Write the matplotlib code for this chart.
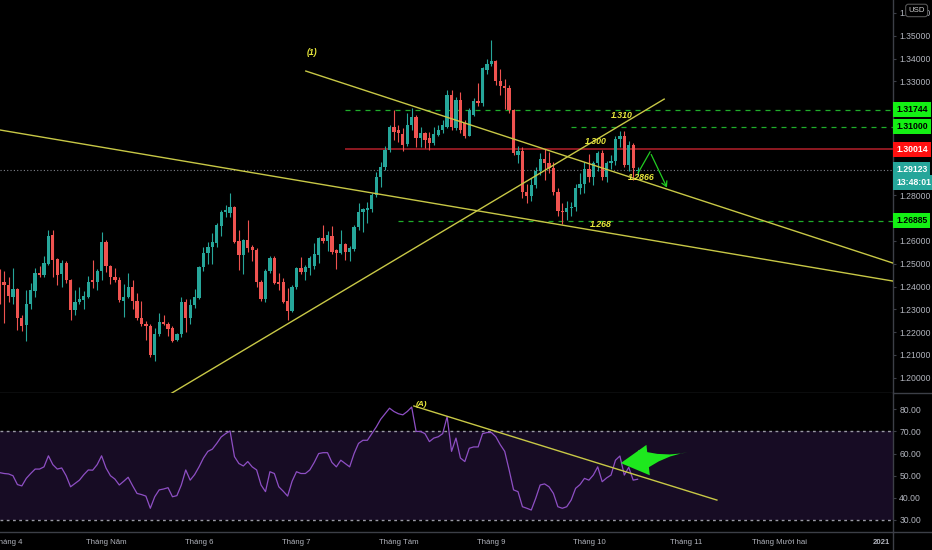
import numpy as np
import matplotlib.pyplot as plt
from matplotlib.transforms import blended_transform_factory
from matplotlib.lines import Line2D

plt.rcParams['font.family'] = ['Liberation Sans', 'DejaVu Sans']

# GBPUSD daily candles, 30 Mar .. 16 Oct 2020 (x = trading day index)
opens = [1.2460, 1.2420, 1.2405, 1.2355, 1.2390, 1.2260, 1.2230, 1.2325, 1.2380, 1.2460,
         1.2450, 1.2500, 1.2625, 1.2520, 1.2455, 1.2505, 1.2430, 1.2295, 1.2330, 1.2340,
         1.2355, 1.2430, 1.2420, 1.2470, 1.2595, 1.2490, 1.2440, 1.2430, 1.2335, 1.2355,
         1.2400, 1.2335, 1.2260, 1.2235, 1.2225, 1.2100, 1.2190, 1.2245, 1.2235, 1.2220,
         1.2165, 1.2190, 1.2330, 1.2260, 1.2320, 1.2350, 1.2485, 1.2548, 1.2575, 1.2590,
         1.2665, 1.2728, 1.2721, 1.2750, 1.2600, 1.2538, 1.2604, 1.2575, 1.2560, 1.2421,
         1.2343, 1.2469, 1.2524, 1.2421, 1.2421, 1.2337, 1.2294, 1.2399, 1.2480, 1.2465,
         1.2480, 1.2490, 1.2538, 1.2611, 1.2601, 1.2623, 1.2560, 1.2548, 1.2587, 1.2550,
         1.2565, 1.2663, 1.2725, 1.2735, 1.2738, 1.2801, 1.2881, 1.2925, 1.2999, 1.3098,
         1.3087, 1.3070, 1.3025, 1.3108, 1.3145, 1.3050, 1.3072, 1.3050, 1.3028, 1.3065,
         1.3085, 1.3101, 1.3240, 1.3094, 1.3218, 1.3116, 1.3060, 1.3153, 1.3215, 1.3203,
         1.3350, 1.3375, 1.3390, 1.3300, 1.3280, 1.3270, 1.3175, 1.2975, 1.2995, 1.2815,
         1.2795, 1.2845, 1.2905, 1.2960, 1.2940, 1.2920, 1.2815, 1.2730, 1.2725, 1.2745,
         1.2750, 1.2830, 1.2850, 1.2915, 1.2880, 1.2940, 1.2985, 1.2880, 1.2940, 1.2950,
         1.3045, 1.3060, 1.2935, 1.3020, 1.2905]
highs = [1.2475, 1.2470, 1.2440, 1.2480, 1.2395, 1.2275, 1.2385, 1.2415, 1.2480, 1.2490,
         1.2535, 1.2648, 1.2650, 1.2525, 1.2515, 1.2510, 1.2435, 1.2385, 1.2400, 1.2380,
         1.2445, 1.2515, 1.2475, 1.2640, 1.2605, 1.2495, 1.2480, 1.2440, 1.2410, 1.2460,
         1.2430, 1.2370, 1.2335, 1.2250, 1.2235, 1.2220, 1.2285, 1.2275, 1.2245, 1.2225,
         1.2195, 1.2355, 1.2345, 1.2345, 1.2390, 1.2490, 1.2575, 1.2597, 1.2633, 1.2677,
         1.2735, 1.2757, 1.2812, 1.2753, 1.2650, 1.2607, 1.2690, 1.2582, 1.2567, 1.2428,
         1.2475, 1.2534, 1.2534, 1.2458, 1.2436, 1.2392, 1.2406, 1.2484, 1.2528, 1.2494,
         1.2534, 1.2590, 1.2616, 1.2670, 1.2645, 1.2667, 1.2566, 1.2648, 1.2590, 1.2579,
         1.2670, 1.2765, 1.2743, 1.2772, 1.2811, 1.2903, 1.2947, 1.3016, 1.3108, 1.3174,
         1.3108, 1.3095, 1.3160, 1.3185, 1.3152, 1.3101, 1.3079, 1.3079, 1.3101, 1.3108,
         1.3130, 1.3262, 1.3262, 1.3232, 1.3254, 1.3130, 1.3181, 1.3225, 1.3291, 1.3364,
         1.3400, 1.3482, 1.3395, 1.3355, 1.3310, 1.3285, 1.3180, 1.3015, 1.3010, 1.2850,
         1.2875, 1.2925, 1.2985, 1.3005, 1.2990, 1.2945, 1.2830, 1.2765, 1.2775, 1.2770,
         1.2850, 1.2900, 1.2945, 1.2980, 1.2950, 1.2995, 1.3000, 1.2950, 1.2975, 1.3060,
         1.3080, 1.3080, 1.3040, 1.3030, 1.2925]
lows = [1.2325, 1.2240, 1.2330, 1.2325, 1.2210, 1.2205, 1.2160, 1.2300, 1.2355, 1.2440,
        1.2440, 1.2495, 1.2440, 1.2405, 1.2400, 1.2415, 1.2255, 1.2275, 1.2325, 1.2300,
        1.2350, 1.2395, 1.2385, 1.2430, 1.2465, 1.2410, 1.2420, 1.2330, 1.2265, 1.2350,
        1.2300, 1.2255, 1.2225, 1.2165, 1.2092, 1.2075, 1.2185, 1.2230, 1.2185, 1.2155,
        1.2160, 1.2180, 1.2200, 1.2235, 1.2305, 1.2345, 1.2470, 1.2500, 1.2500, 1.2575,
        1.2620, 1.2705, 1.2706, 1.2590, 1.2473, 1.2455, 1.2553, 1.2510, 1.2400, 1.2337,
        1.2333, 1.2458, 1.2411, 1.2384, 1.2328, 1.2253, 1.2289, 1.2387, 1.2455, 1.2428,
        1.2450, 1.2475, 1.2505, 1.2592, 1.2555, 1.2544, 1.2475, 1.2544, 1.2518, 1.2510,
        1.2555, 1.2648, 1.2640, 1.2677, 1.2728, 1.2794, 1.2837, 1.2910, 1.2991, 1.3043,
        1.3035, 1.2995, 1.3015, 1.3087, 1.3014, 1.3014, 1.3006, 1.2999, 1.3021, 1.3058,
        1.3072, 1.3094, 1.3087, 1.3087, 1.3072, 1.3050, 1.3058, 1.3148, 1.3192, 1.3192,
        1.3330, 1.3365, 1.3285, 1.3240, 1.3180, 1.3160, 1.2975, 1.2940, 1.2790, 1.2765,
        1.2775, 1.2830, 1.2890, 1.2865, 1.2900, 1.2800, 1.2710, 1.2675, 1.2690, 1.2710,
        1.2730, 1.2805, 1.2810, 1.2860, 1.2845, 1.2905, 1.2865, 1.2860, 1.2915, 1.2935,
        1.3010, 1.2925, 1.2905, 1.2865, 1.2890]
closes = [1.2420, 1.2405, 1.2360, 1.2390, 1.2260, 1.2225, 1.2325, 1.2385, 1.2458, 1.2450,
          1.2505, 1.2620, 1.2515, 1.2450, 1.2505, 1.2430, 1.2295, 1.2330, 1.2345, 1.2360,
          1.2420, 1.2420, 1.2470, 1.2595, 1.2490, 1.2440, 1.2430, 1.2340, 1.2355, 1.2400,
          1.2335, 1.2260, 1.2235, 1.2225, 1.2100, 1.2190, 1.2245, 1.2235, 1.2215, 1.2160,
          1.2190, 1.2330, 1.2260, 1.2320, 1.2352, 1.2485, 1.2548, 1.2575, 1.2597, 1.2670,
          1.2728, 1.2735, 1.2750, 1.2597, 1.2538, 1.2604, 1.2568, 1.2560, 1.2421, 1.2343,
          1.2469, 1.2524, 1.2414, 1.2411, 1.2333, 1.2294, 1.2399, 1.2480, 1.2465, 1.2484,
          1.2524, 1.2543, 1.2611, 1.2601, 1.2626, 1.2550, 1.2548, 1.2587, 1.2550, 1.2568,
          1.2663, 1.2728, 1.2738, 1.2743, 1.2801, 1.2881, 1.2925, 1.2999, 1.3098, 1.3079,
          1.3072, 1.3020, 1.3108, 1.3145, 1.3050, 1.3072, 1.3043, 1.3028, 1.3068, 1.3087,
          1.3108, 1.3240, 1.3101, 1.3218, 1.3087, 1.3058, 1.3174, 1.3215, 1.3203, 1.3357,
          1.3375, 1.3390, 1.3300, 1.3280, 1.3270, 1.3175, 1.2985, 1.2995, 1.2815, 1.2795,
          1.2845, 1.2905, 1.2960, 1.2940, 1.2920, 1.2815, 1.2730, 1.2725, 1.2745, 1.2750,
          1.2830, 1.2850, 1.2915, 1.2880, 1.2940, 1.2985, 1.2880, 1.2940, 1.2950, 1.3045,
          1.3060, 1.2935, 1.3020, 1.2920, 1.29123]
rsi = [51.4, 51.0, 50.8, 50.0, 46.0, 45.4, 48.8, 51.0, 53.0, 53.0,
       54.0, 59.0, 55.0, 53.0, 53.5, 50.0, 45.0, 46.5, 48.0, 50.5,
       52.6, 52.5, 55.0, 59.0, 53.5, 50.0, 48.5, 45.8, 47.5, 49.3,
       45.5, 42.0, 41.5, 40.8, 35.3, 40.5, 43.6, 44.0, 44.6, 40.5,
       41.0, 45.8, 52.6, 48.0, 50.5, 54.0, 58.0, 61.0, 62.0, 64.6,
       67.5, 69.0, 70.2, 58.6, 55.5, 54.4, 56.4, 54.0, 52.6, 45.8,
       42.8, 51.8, 51.0, 45.0, 43.0, 40.8, 47.5, 51.8, 51.0, 51.0,
       52.6, 56.0, 60.0, 60.4, 60.4, 56.0, 54.0, 57.0, 55.5, 54.0,
       60.0, 64.6, 66.0, 66.0, 69.0, 72.0, 75.5, 78.0, 80.5, 79.0,
       78.0, 77.5, 79.0, 81.0, 70.0, 70.0, 69.0, 65.4, 67.0, 67.6,
       69.0, 76.7, 61.0, 67.0, 58.0, 56.4, 62.4, 63.0, 63.0, 69.0,
       69.5, 69.5, 67.6, 64.0, 61.0, 52.6, 43.6, 42.8, 36.0, 35.3,
       34.5, 39.8, 45.8, 46.3, 45.0, 42.0, 36.0, 35.3, 36.0, 39.0,
       44.3, 46.0, 48.8, 48.0, 50.3, 54.0, 47.3, 49.0, 50.3, 57.0,
       58.9, 50.3, 53.8, 48.0, 48.4]

month_pos = [2, 24, 45, 67, 90, 111, 133, 155, 176, 199]
month_labels = ['Tháng 4', 'Tháng Năm', 'Tháng 6', 'Tháng 7', 'Tháng Tám',
                'Tháng 9', 'Tháng 10', 'Tháng 11', 'Tháng Mười hai', '2021']

# horizontal levels: price, first bar, kind
level_prices = [1.31744, 1.31000, 1.30014, 1.26885]
level_start = [78, 129, 78, 90]
level_kind = ['green', 'green', 'red', 'green']

# drawn trend lines (bar index, price)
trend_a = ([69.1, 201.6], [1.3345, 1.2503])
trend_b = ([-1.0, 201.6], [1.3090, 1.2424])
trend_c = ([37.5, 150.0], [1.1917, 1.3222])
zigzag = ([144.1, 146.8, 150.9], [1.2898, 1.2990, 1.2823])
rsi_trend = ([93.5, 161.9], [81.5, 39.0])
# big arrow in the RSI pane: tail, head base, tip
rsi_arrow = ([155.3, 144.6, 140.2], [60.6, 56.7, 55.7])

notes = ['(1)', '1.310', '1.300', '1.2866', '1.268']
note_x = [70.5, 140.5, 134.5, 144.9, 135.6]
note_y = [1.3427, 1.3152, 1.3038, 1.2876, 1.2674]

# tick labels hidden under the price tags
covered = [1.27, 1.29, 1.30, 1.31]

XLIM = (0.07, 201.65)
UP, DOWN = '#26a69a', '#ef5350'
YEL = '#c8c846'
TXT = '#b2b5be'
AXC = '#3c3f47'
ARW = '#1ee81e'

fig = plt.figure(figsize=(9.32, 5.5), dpi=100, facecolor='black')
ax = fig.add_axes([0, 0.28545, 0.95815, 0.71455])
ax2 = fig.add_axes([0, 0.03273, 0.95815, 0.25273])
for a in (ax, ax2):
    a.set_facecolor('black')
    a.set_xlim(*XLIM)
    for s in ('top', 'left'):
        a.spines[s].set_visible(False)
    for s in ('right', 'bottom'):
        a.spines[s].set_color(AXC)
        a.spines[s].set_linewidth(1.0)
    a.yaxis.tick_right()
    a.tick_params(axis='y', colors=AXC, labelcolor=TXT, labelsize=6.2, length=2.5, pad=2)

# axis lines continuing into the price-scale column
fig.add_artist(Line2D([0.95815, 0.95815], [0, 0.0328], color=AXC, lw=1.0))
fig.add_artist(Line2D([0.95815, 1], [0.28545, 0.28545], color=AXC, lw=1.0))
fig.add_artist(Line2D([0.95815, 1], [0.03273, 0.03273], color=AXC, lw=1.0))

# candles
x = np.arange(len(closes))
o = np.array(opens)
c = np.array(closes)
cols = np.where(c >= o, UP, DOWN)
ax.vlines(x, lows, highs, colors=cols, lw=0.8, zorder=2)
ax.bar(x, np.maximum(np.abs(c - o), 0.00025), bottom=np.minimum(o, c), width=0.74,
       color=cols, linewidth=0, zorder=3)

ax.set_ylim(1.19329, 1.36566)
ax.set_yticks(np.arange(1.20, 1.3651, 0.01))
ax.yaxis.set_major_formatter(plt.FuncFormatter(
    lambda v, pos: '' if any(abs(v - cv) < 1e-6 for cv in covered) else f'{v:.5f}'))
ax.tick_params(axis='x', length=0, labelbottom=False)

# levels
for p, s, k in zip(level_prices, level_start, level_kind):
    if k == 'green':
        ax.hlines(p, s, XLIM[1], colors='#1fae2a', lw=0.9, linestyles=(0, (4, 4)), zorder=1)
    else:
        ax.hlines(p, s, XLIM[1], colors='#b3202a', lw=1.1, zorder=1)
ax.axhline(closes[-1], color='#80838c', lw=0.8, ls=(0, (1, 2)), zorder=1)

# trend lines
for tx, ty in (trend_a, trend_b, trend_c):
    ax.plot(tx, ty, color=YEL, lw=1.0, zorder=4)
ax.plot(zigzag[0][:2], zigzag[1][:2], color='#22cc22', lw=0.9, zorder=5)
ax.annotate('', xy=(zigzag[0][2], zigzag[1][2]), xytext=(zigzag[0][1], zigzag[1][1]),
            arrowprops=dict(arrowstyle='->,head_length=0.35,head_width=0.2', color='#22cc22', lw=0.9),
            zorder=5)

for t, nx, ny in zip(notes, note_x, note_y):
    ax.text(nx, ny, t, color='#e8e83c', fontsize=6.3, fontweight='bold', style='italic',
            ha='center', va='center', zorder=6)

# price tags on the axis
tr = blended_transform_factory(ax.transAxes, ax.transData)
tag_style = {'green': ('#14f014', 'black'), 'red': ('#ff1010', 'white')}
for p, k in zip(level_prices, level_kind):
    fc, tc = tag_style[k]
    ax.annotate(f'{p:.5f}', xy=(1, p), xycoords=tr, xytext=(3, 0), textcoords='offset pixels',
                ha='left', va='center', fontsize=6.2, color=tc, fontweight='bold',
                bbox=dict(boxstyle='square,pad=0.35', fc=fc, ec='none'), annotation_clip=False, zorder=10)
ax.annotate(f'{closes[-1]:.5f}', xy=(1, closes[-1]), xycoords=tr, xytext=(3, 0), textcoords='offset pixels',
            ha='left', va='center', fontsize=6.2, color='white', fontweight='bold',
            bbox=dict(boxstyle='square,pad=0.35', fc='#26a69a', ec='none'), annotation_clip=False, zorder=10)
ax.annotate('13:48:01', xy=(1, closes[-1]), xycoords=tr, xytext=(3, -13), textcoords='offset pixels',
            ha='left', va='center', fontsize=6.2, color='white', fontweight='bold',
            bbox=dict(boxstyle='square,pad=0.35', fc='#26a69a', ec='none'), annotation_clip=False, zorder=10)

fig.text(0.9835, 0.981, 'USD', color='#d0d0d0', fontsize=5.6, ha='center', va='center',
         bbox=dict(boxstyle='round,pad=0.35', fc='black', ec='#555555', lw=0.8))

# RSI panel
ax2.set_ylim(24.58, 87.36)
ax2.axhspan(30, 70, color='#170c24', lw=0, zorder=0)
for lvl in (70, 30):
    ax2.axhline(lvl, color='#9a9aa4', lw=1.0, ls=(0, (2, 2.5)), zorder=1)
ax2.plot(x, rsi, color='#8e4fc4', lw=0.9, zorder=3)
ax2.plot(rsi_trend[0], rsi_trend[1], color=YEL, lw=1.0, zorder=4)
ax2.text(95.3, 82.3, '(A)', color='#e8e83c', fontsize=6.0, fontweight='bold', style='italic',
         ha='center', va='center', zorder=6)
# tapering shaft, then the head
ax2.annotate('', xy=(rsi_arrow[0][0], rsi_arrow[1][0]), xytext=(rsi_arrow[0][1], rsi_arrow[1][1]),
             arrowprops=dict(arrowstyle='wedge,tail_width=0.8,shrink_factor=0.2',
                             fc=ARW, ec='none', mutation_scale=20, shrinkA=0, shrinkB=0), zorder=6)
ax2.annotate('', xy=(rsi_arrow[0][2], rsi_arrow[1][2]), xytext=(rsi_arrow[0][1] + 0.8, rsi_arrow[1][1] + 0.15),
             arrowprops=dict(arrowstyle='simple,head_length=0.9,head_width=1.0,tail_width=0.4',
                             fc=ARW, ec='none', mutation_scale=22, shrinkA=0, shrinkB=0), zorder=6)
ax2.set_yticks([30, 40, 50, 60, 70, 80])
ax2.yaxis.set_major_formatter(plt.FormatStrFormatter('%.2f'))
ax2.set_xticks(month_pos)
ax2.set_xticklabels(month_labels)
ax2.tick_params(axis='x', length=0, pad=5, labelsize=5.6, labelcolor=TXT)
for lab in ax2.get_xticklabels():
    if lab.get_text() == '2021':
        lab.set_fontweight('bold')

fig.savefig('out.png', dpi=100, facecolor='black')
